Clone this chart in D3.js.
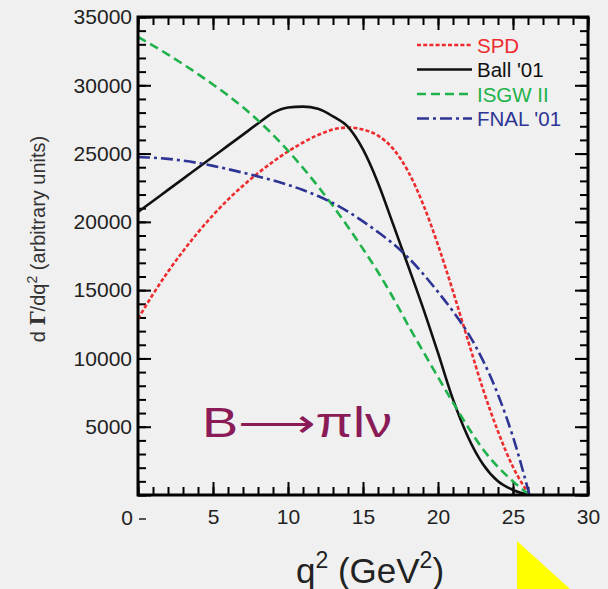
<!DOCTYPE html>
<html>
<head>
<meta charset="utf-8">
<script src="https://cdn.jsdelivr.net/npm/d3@7"></script>
<style>
  html, body { margin: 0; padding: 0; background: #f0f0f0; }
  svg { display: block; }
  text { font-family: "Liberation Sans", Arial, Helvetica, sans-serif; }
</style>
</head>
<body>
<svg id="chart" width="608" height="589"></svg>
<script>
// q^2 grid (GeV^2) shared by all model curves
const q2 = [0, 1, 2, 3, 4, 5, 6, 7, 8, 9, 10, 11, 12, 13, 14, 15, 16, 17, 18, 19, 20, 21, 22, 23, 24, 25, 26.1];

// dGamma/dq^2 in arbitrary units for each form-factor model
const spd  = [12900, 14700, 16350, 17850, 19230, 20490, 21630, 22650, 23570, 24400, 25150, 25810, 26360, 26760, 26910, 26760, 26310, 25360, 23710, 21310, 18310, 14910, 11310, 7750, 4650, 2050, 0];
const ball = [20720, 21530, 22340, 23150, 23960, 24770, 25580, 26390, 27200, 27980, 28370, 28440, 28280, 27720, 26950, 25300, 22850, 19850, 16800, 13700, 10400, 7000, 4250, 2250, 1000, 370, 0];
const isgw = [33540, 32910, 32250, 31550, 30820, 30060, 29260, 28390, 27430, 26370, 25210, 23950, 22600, 21160, 19630, 18020, 16330, 14460, 12450, 10530, 8630, 6770, 4980, 3350, 2050, 1000, 0];
const fnal = [24750, 24700, 24610, 24480, 24310, 24100, 23860, 23600, 23330, 23040, 22710, 22330, 21890, 21370, 20750, 20030, 19250, 18400, 17400, 16200, 14870, 13450, 11850, 9850, 7350, 4250, 0];

const seriesNames = ["SPD", "Ball '01", "ISGW II", "FNAL '01"];
const seriesValues = [spd, ball, isgw, fnal];

// tick labels
const xTickLabels = [5, 10, 15, 20, 25, 30];
const yTickLabels = [5000, 10000, 15000, 20000, 25000, 30000, 35000];

const styles = [
  { color: "#ee2b2e", dash: "4,2.2" },
  { color: "#111111", dash: null },
  { color: "#1fb24b", dash: "9,5" },
  { color: "#2e3494", dash: "12,4,3,4" }
];

const svg = d3.select("#chart");
const W = 608, H = 589;
svg.append("rect").attr("width", W).attr("height", H).attr("fill", "#f0f0f0");

const pL = 138, pR = 588, pT = 17, pB = 495;
const x = d3.scaleLinear().domain([0, 30]).range([pL, pR]);
const y = d3.scaleLinear().domain([0, 35000]).range([pB, pT]);

const majorX = d3.range(0, 31, 5);
const minorX = d3.range(0, 31, 1);
const majorY = d3.range(0, 35001, 5000);
const minorY = d3.range(0, 35001, 1000);

function styleAxis(g) {
  g.select(".domain").remove();
  g.selectAll(".tick line").attr("stroke", "#000").attr("stroke-width", 2);
  g.selectAll("text").attr("fill", "#222").attr("font-size", 21);
}

// minor ticks on all four sides (inward)
svg.append("g").attr("transform", `translate(0,${pB})`)
  .call(d3.axisBottom(x).tickValues(minorX).tickSize(-8).tickFormat("")).call(styleAxis);
svg.append("g").attr("transform", `translate(0,${pT})`)
  .call(d3.axisTop(x).tickValues(minorX).tickSize(-8).tickFormat("")).call(styleAxis);
svg.append("g").attr("transform", `translate(${pL},0)`)
  .call(d3.axisLeft(y).tickValues(minorY).tickSize(-8).tickFormat("")).call(styleAxis);
svg.append("g").attr("transform", `translate(${pR},0)`)
  .call(d3.axisRight(y).tickValues(minorY).tickSize(-8).tickFormat("")).call(styleAxis);

// major ticks
svg.append("g").attr("transform", `translate(0,${pB})`)
  .call(d3.axisBottom(x).tickValues(majorX).tickSize(-13).tickFormat("")).call(styleAxis);
svg.append("g").attr("transform", `translate(0,${pT})`)
  .call(d3.axisTop(x).tickValues(majorX).tickSize(-13).tickFormat("")).call(styleAxis);
svg.append("g").attr("transform", `translate(${pL},0)`)
  .call(d3.axisLeft(y).tickValues(majorY).tickSize(-13).tickFormat("")).call(styleAxis);
svg.append("g").attr("transform", `translate(${pR},0)`)
  .call(d3.axisRight(y).tickValues(majorY).tickSize(-13).tickFormat("")).call(styleAxis);

// tick labels
svg.append("g").attr("transform", `translate(0,${pB})`)
  .call(d3.axisBottom(x).tickValues(xTickLabels).tickSize(0).tickPadding(14).tickFormat(d3.format("d")))
  .call(styleAxis);
svg.append("g").attr("transform", `translate(${pL},0)`)
  .call(d3.axisLeft(y).tickValues(yTickLabels).tickSize(0).tickPadding(6).tickFormat(d3.format("d")))
  .call(styleAxis);

// shared origin label
svg.append("text").attr("x", 133).attr("y", 525).attr("text-anchor", "end")
  .attr("font-size", 21).attr("fill", "#222").text("0");
svg.append("line").attr("x1", 139).attr("x2", 146).attr("y1", 519).attr("y2", 519)
  .attr("stroke", "#222").attr("stroke-width", 1.5);

// curves
const line = d3.line()
  .x((d, i) => x(q2[i]))
  .y(d => y(d))
  .curve(d3.curveMonotoneX);

svg.append("clipPath").attr("id", "plotclip")
  .append("rect").attr("x", pL).attr("y", pT).attr("width", pR - pL).attr("height", pB - pT);

const curves = svg.append("g").attr("clip-path", "url(#plotclip)");
seriesValues.forEach((vals, k) => {
  curves.append("path")
    .datum(vals)
    .attr("d", line)
    .attr("fill", "none")
    .attr("stroke", styles[k].color)
    .attr("stroke-width", 2.6)
    .attr("stroke-dasharray", styles[k].dash);
});

// frame
svg.append("rect").attr("x", pL).attr("y", pT).attr("width", pR - pL).attr("height", pB - pT)
  .attr("fill", "none").attr("stroke", "#000").attr("stroke-width", 3);

// legend
const legend = svg.append("g");
seriesNames.forEach((name, k) => {
  const ly = 45 + k * 24.5;
  legend.append("line").attr("x1", 417).attr("x2", 472).attr("y1", ly).attr("y2", ly)
    .attr("stroke", styles[k].color).attr("stroke-width", 2.6)
    .attr("stroke-dasharray", styles[k].dash);
  legend.append("text").attr("x", 477).attr("y", ly + 7.5)
    .attr("font-size", 20.5).attr("fill", styles[k].color).text(name);
});

// process annotation
svg.append("text").attr("x", 202).attr("y", 437)
  .attr("font-family", "'DejaVu Sans', sans-serif")
  .attr("font-size", 42).attr("fill", "#8a1b57")
  .attr("textLength", 190).attr("lengthAdjust", "spacingAndGlyphs")
  .text("B⟶πlν");

// y axis title
const yt = svg.append("text")
  .attr("transform", "translate(45,239) rotate(-90)")
  .attr("text-anchor", "middle").attr("font-size", 20).attr("fill", "#333");
yt.append("tspan").text("d ");
yt.append("tspan").attr("font-family", "'DejaVu Serif', serif").attr("font-weight", "bold").text("Γ");
yt.append("tspan").text("/dq");
yt.append("tspan").attr("font-size", 14).attr("dy", -8).text("2");
yt.append("tspan").attr("dy", 8).text(" (arbitrary units)");

// x axis title
const xt = svg.append("text").attr("x", 370).attr("y", 583)
  .attr("text-anchor", "middle").attr("font-size", 35).attr("fill", "#222");
xt.append("tspan").text("q");
xt.append("tspan").attr("font-size", 23).attr("dy", -15).text("2");
xt.append("tspan").attr("dy", 15).text(" (GeV");
xt.append("tspan").attr("font-size", 23).attr("dy", -15).text("2");
xt.append("tspan").attr("dy", 15).text(")");

// highlight marker
svg.append("polygon").attr("points", "517,541 517,589 570,589").attr("fill", "#ffff00");
</script>
</body>
</html>
